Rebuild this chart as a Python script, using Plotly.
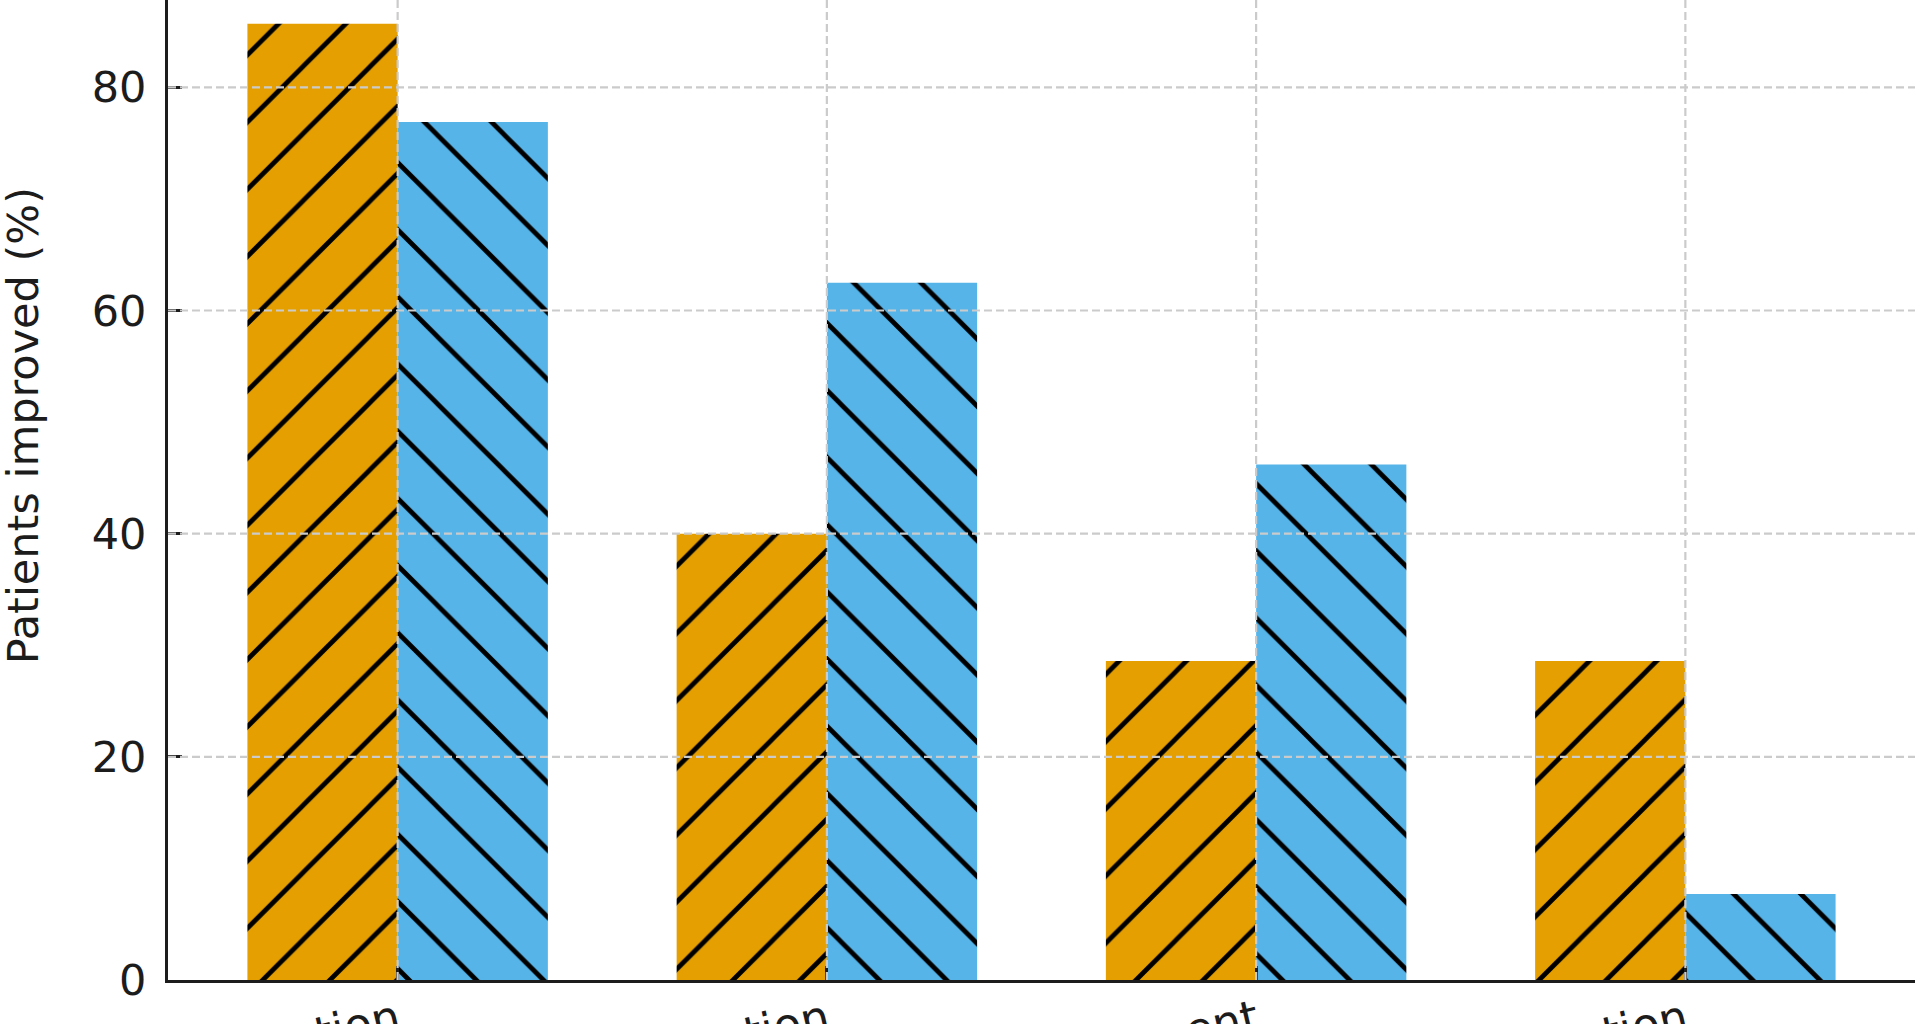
import plotly.graph_objects as go

categories = ["Medication", "Rehabilitation", "Treatment", "Observation"]
series_a_name = "Group A"
series_b_name = "Group B"
series_a = [85.7, 40.0, 28.6, 28.6]
series_b = [76.9, 62.5, 46.2, 7.7]
y_ticks = [0, 20, 40, 60, 80]
y_label = "Patients improved (%)"

ORANGE = "#E69F00"
BLUE = "#56B4E9"
INK = "#1c1c1c"
GRID = "#cbcbcb"
FONT = "DejaVu Sans"

fig = go.Figure()
fig.add_trace(go.Bar(
    x=categories, y=series_a, name=series_a_name,
    marker=dict(color=ORANGE, line=dict(width=0),
                pattern=dict(shape="/", size=47.5, solidity=0.1,
                             fgcolor="black", bgcolor=ORANGE, fgopacity=1,
                             fillmode="replace")),
))
fig.add_trace(go.Bar(
    x=categories, y=series_b, name=series_b_name,
    marker=dict(color=BLUE, line=dict(width=0),
                pattern=dict(shape="\\", size=47.5, solidity=0.1,
                             fgcolor="black", bgcolor=BLUE, fgopacity=1,
                             fillmode="replace")),
))

# gridlines drawn above the bars, as in the reference
shapes = []
for v in y_ticks[1:]:
    shapes.append(dict(type="line", xref="x domain", yref="y", x0=0, x1=1, y0=v, y1=v,
                       line=dict(color=GRID, width=2.2, dash="8px,4px"), layer="above"))
for c in categories:
    shapes.append(dict(type="line", xref="x", yref="y domain", x0=c, x1=c, y0=0, y1=1,
                       line=dict(color=GRID, width=2.2, dash="8px,4px"), layer="above"))

fig.update_layout(
    width=1920, height=1024,
    margin=dict(l=168, r=5, t=0, b=44, autoexpand=False),
    paper_bgcolor="white", plot_bgcolor="white",
    barmode="group", bargap=0.3, bargroupgap=0,
    showlegend=False,
    font=dict(family=FONT, color=INK, size=43),
    shapes=shapes,
    annotations=[dict(text=y_label, textangle=-90, xref="paper", yref="paper",
                      x=-0.083, y=0.566, xanchor="center", yanchor="middle",
                      showarrow=False, font=dict(family=FONT, size=43, color=INK))],
)
fig.update_xaxes(
    range=[-0.535, 3.535], showgrid=False, zeroline=False, automargin=False,
    showline=True, linecolor=INK, linewidth=3, layer="above traces",
    ticks="inside", ticklen=14, tickwidth=3, tickcolor=INK,
    tickangle=-13, ticklabelstandoff=-6,
    tickfont=dict(family=FONT, size=45, color=INK),
)
fig.update_yaxes(
    range=[0, 87.83], showgrid=False, zeroline=False, automargin=False,
    showline=True, linecolor=INK, linewidth=3, layer="above traces",
    ticks="inside", ticklen=14, tickwidth=3, tickcolor=INK,
    tickvals=y_ticks, ticklabelstandoff=10,
    tickfont=dict(family=FONT, size=43, color=INK),
)

fig.write_html("out.html",
               config={"displayModeBar": False},
               post_script="document.body.style.margin='0';document.body.style.overflow='hidden';")
